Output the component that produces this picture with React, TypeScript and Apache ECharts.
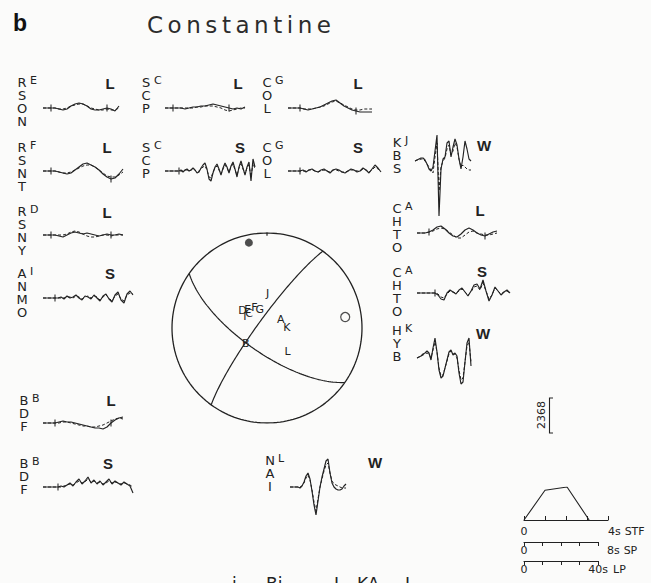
import React, { useEffect, useRef } from "react";
import * as echarts from "echarts";

const INK = "#222222";
const PAPER = "#fbfbfa";
const FONT = "'DejaVu Sans', 'Liberation Sans', sans-serif";

// ---------- waveform panels ----------
const TRACE_STATIONS = ["RSON", "SCP", "COL", "RSNT", "SCP", "COL", "KBS", "RSNY", "CHTO", "ANMO", "CHTO", "HYB", "BDF", "BDF", "NAI"];
const TRACE_KEYS = ["E", "C", "G", "F", "C", "G", "J", "D", "A", "I", "A", "K", "B", "B", "L"];
const TRACE_PHASES = ["L", "L", "L", "L", "S", "S", "W", "L", "L", "S", "S", "W", "L", "S", "W"];

// observed (solid) and synthetic (dashed) amplitudes, uniform sampling
const RSON_L_OBS = [0, 0, 0, 0, -1, -2, -1, 2, 4, 5, 4, 2, -1, -2, -2, -1, 0, -1, -3, 2];
const RSON_L_SYN = [0, 0, 0, 0, -1, -1, 0, 2, 3, 4, 4, 2, 0, -1, -2, -2, -1, -2, -2, 0];
const SCP_L_OBS = [0, 0, 0, 0, 0, -1, 0, 1, 1, 2, 2, 3, 4, 3, 2, 1, 0, -1, 0, -1, 1];
const SCP_L_SYN = [0, 0, 0, 0, 0, 0, 0, 0, 1, 1, 2, 2, 2, 1, 0, -2, -3, -2, -1, 0, 0];
const COL_L_OBS = [0, 0, 0, 0, -1, -2, -1, 0, 1, 3, 5, 7, 8, 5, 2, 0, -2, -3, -4, -4, -4, -4];
const COL_L_SYN = [0, 0, 0, 0, -1, -1, -1, 0, 1, 2, 4, 6, 7, 5, 3, 1, -1, -2, -2, -1, -1, -1];
const RSNT_L_OBS = [0, 0, 0, 0, -1, -2, -3, -2, 1, 4, 7, 8, 6, 4, 1, -3, -6, -8, -7, -3, 2];
const RSNT_L_SYN = [0, 0, 0, 0, -1, -2, -2, -1, 1, 3, 5, 6, 6, 4, 1, -2, -5, -6, -6, -4, -1];
const SCP_S_OBS = [0, 0, 0, 0, 0, 0, 0, 0, 1, -1, 1, 2, 0, 1, 3, 1, -2, -1, 3, 6, 8, 2, -8, -10, -2, 4, 7, 2, -4, 3, 8, 4, -2, 5, 9, 2, -6, 4, 10, 3, -4, 4, 9, -10, 12, 4];
const SCP_S_SYN = [0, 0, 0, 0, 0, 0, 0, 0, 0, 0, 1, 1, 0, 1, 2, 1, -1, 0, 2, 4, 5, 1, -6, -7, -1, 3, 5, 1, -3, 2, 6, 3, -1, 4, 7, 1, -4, 3, 7, 2, -3, 3, 6, -6, 8, 2];
const COL_S_OBS = [0, 0, 0, 0, 0, 1, -1, 1, 2, 0, -1, 1, 2, 0, -2, 1, 2, 1, -1, -2, 0, 2, 1, -1, 0, 3, 1, -2, 2, 6, 3, -1];
const COL_S_SYN = [0, 0, 0, 0, 0, 0, 0, 1, 1, 0, -1, 0, 1, 0, -1, 1, 1, 0, -1, -1, 0, 1, 1, 0, 0, 2, 1, -1, 1, 4, 2, 0];
const KBS_W_OBS = [0, 1, 2, 3, 3, 1, -3, -8, -10, -6, 10, 26, -55, -8, 2, 4, 18, 20, 4, 14, 22, 16, 2, -8, 4, 20, 12, 2, 0];
const KBS_W_SYN = [0, 1, 1, 2, 2, 0, -3, -6, -9, -12, 4, 18, -30, -6, 0, 3, 12, 16, 6, 10, 18, 14, 2, -6, -4, -6, -8, -9, -9];
const RSNY_L_OBS = [0, 0, 0, 0, -1, -2, 0, 2, 3, 2, 1, 2, 1, 0, -1, 0, 1, 0, 0, 1, 0];
const RSNY_L_SYN = [0, 0, 0, 0, 0, 0, 1, 3, 4, 3, 1, -1, -2, -2, -1, 0, 0, -1, 0, 0, 0];
const CHTO_L_OBS = [0, 0, 0, 1, 3, 6, 7, 4, 0, -3, -4, -1, 3, 5, 3, 0, -2, -3, -1, 1, 2];
const CHTO_L_SYN = [0, 0, 0, 1, 2, 4, 5, 4, 1, -2, -5, -5, -2, 1, 2, 0, -1, -2, -2, -1, 0];
const ANMO_S_OBS = [0, 0, 0, 0, 0, 0, 1, -1, 2, 0, 1, 3, 0, -2, 2, 1, -1, 3, 0, -3, 2, 4, -1, -4, 3, 6, -2, -5, 4, 7, 3];
const ANMO_S_SYN = [0, 0, 0, 0, 0, 0, 0, 0, 1, 1, 0, 2, 1, -1, 1, 2, 0, 2, 1, -2, 1, 3, 0, -3, 2, 4, -1, -3, 3, 5, 4];
const CHTO_S_OBS = [0, 0, 0, 0, 0, 0, 0, -2, -6, -7, 0, 3, 1, -1, 3, 5, 1, -3, 2, 8, 9, 4, 13, 2, -8, -2, 6, 2, -2, 1, 3, 0];
const CHTO_S_SYN = [0, 0, 0, 0, 0, 0, 0, -1, -4, -5, -1, 2, 1, 0, 2, 4, 1, -2, 1, 6, 7, 3, 10, 2, -6, -2, 5, 2, -1, 1, 2, 0];
const HYB_W_OBS = [0, 1, 2, 4, 5, 7, 5, -2, 10, 20, 6, -12, -20, -18, -10, -2, 6, 8, 3, 5, 2, -15, -26, -24, -4, 15, 20, -8];
const HYB_W_SYN = [0, 1, 2, 3, 4, 5, 4, 0, 8, 16, 6, -10, -18, -17, -10, -3, 4, 7, 4, 4, 0, -12, -22, -20, -4, 12, 16, -4];
const BDF_L_OBS = [0, 0, 0, 0, 1, 2, 1, 1, 0, -1, -2, -3, -4, -5, -5, -6, -4, 0, 3, 5, 6];
const BDF_L_SYN = [0, 0, 0, 0, 0, 1, 1, 0, -1, -2, -3, -3, -4, -4, -3, -2, 0, 2, 4, 5, 4];
const BDF_S_OBS = [0, 0, 0, 0, 0, 0, 1, 0, 2, 4, 1, 5, 8, 3, 6, 10, 4, 7, 3, 6, 2, 5, 8, 3, 6, 4, 2, 5, 3, 1, -6];
const BDF_S_SYN = [0, 0, 0, 0, 0, 0, 0, 1, 2, 3, 2, 4, 6, 4, 5, 8, 5, 6, 4, 5, 3, 4, 6, 4, 5, 4, 3, 4, 3, 2, 0];
const NAI_W_OBS = [0, 0, 0, 0, 0, -1, 1, 5, 11, 14, 8, -4, -18, -28, -14, 0, 10, 18, 26, 28, 14, 4, 0, -2, -3, -3, -2, 1, 3];
const NAI_W_SYN = [0, 0, 0, 0, 0, 0, 1, 4, 9, 12, 7, -3, -15, -24, -12, 0, 8, 16, 22, 24, 14, 6, 3, 2, 1, 0, -1, -1, -1];

const OBSERVED = [RSON_L_OBS, SCP_L_OBS, COL_L_OBS, RSNT_L_OBS, SCP_S_OBS, COL_S_OBS, KBS_W_OBS, RSNY_L_OBS, CHTO_L_OBS, ANMO_S_OBS, CHTO_S_OBS, HYB_W_OBS, BDF_L_OBS, BDF_S_OBS, NAI_W_OBS];
const SYNTHETIC = [RSON_L_SYN, SCP_L_SYN, COL_L_SYN, RSNT_L_SYN, SCP_S_SYN, COL_S_SYN, KBS_W_SYN, RSNY_L_SYN, CHTO_L_SYN, ANMO_S_SYN, CHTO_S_SYN, HYB_W_SYN, BDF_L_SYN, BDF_S_SYN, NAI_W_SYN];
// sample indices of the inversion window marks
const WINDOW_PICKS = [[2, 16], [2, 16], [3, 17], [2, 17], [7], [4], [], [2, 17], [3, 17], [4], [6], [], [3, 17], [5], []];

// panel placement: left edge, baseline, sample spacing, label anchors
const PANELS = [
  { x: 43, y: 108, dx: 4, cx: 22, cy: 82, px: 110, py: 83 },
  { x: 165, y: 108, dx: 4, cx: 146, cy: 82, px: 238, py: 83 },
  { x: 288, y: 108, dx: 4, cx: 267, cy: 82, px: 358, py: 83 },
  { x: 43, y: 171, dx: 4, cx: 22, cy: 147, px: 107, py: 147 },
  { x: 165, y: 171, dx: 2, cx: 146, cy: 147, px: 240, py: 147 },
  { x: 288, y: 171, dx: 3, cx: 267, cy: 147, px: 358, py: 147 },
  { x: 415, y: 161, dx: 2, cx: 397, cy: 142, px: 484, py: 145 },
  { x: 43, y: 235, dx: 4, cx: 22, cy: 211, px: 107, py: 212 },
  { x: 417, y: 233, dx: 4, cx: 397, cy: 208, px: 480, py: 210 },
  { x: 43, y: 298, dx: 3, cx: 22, cy: 273, px: 110, py: 273 },
  { x: 417, y: 293, dx: 3, cx: 397, cy: 272, px: 482, py: 271 },
  { x: 417, y: 358, dx: 2, cx: 397, cy: 330, px: 483, py: 333 },
  { x: 43, y: 423, dx: 4, cx: 24, cy: 400, px: 111, py: 400 },
  { x: 43, y: 487, dx: 3, cx: 24, cy: 463, px: 108, py: 463 },
  { x: 290, y: 487, dx: 2, cx: 270, cy: 460, px: 375, py: 462 },
];

// ---------- focal mechanism ----------
const NODAL_STRIKE = [125, 216];
const NODAL_DIP = [69, 82];
const COMPRESSION_AZ = [348];
const COMPRESSION_TAKEOFF = [81];
const DILATATION_AZ = [82];
const DILATATION_TAKEOFF = [72];
const SPHERE_KEYS = ["A", "K", "L", "B", "J", "D", "E", "C", "I", "F", "G"];
const SPHERE_AZ = [58, 88, 139, 234, 1, 305, 314, 308, 297, 328, 339];
const SPHERE_TAKEOFF = [14, 17, 27, 22.5, 29.5, 25.7, 23, 19.5, 21.2, 20.5, 17.1];

// ---------- source time function and time scales ----------
const STF_TIME = [0, 1.0, 2.05, 3.1];
const STF_AMP = [0, 0.9, 1.0, 0];
const STF_SPAN = 4;
const SP_SPAN = 8;
const LP_SPAN = 40;
const AMPLITUDE_SCALE = "2368";

const rad = Math.PI / 180;

// lower-hemisphere equal-area projection
function project(trend: number, plunge: number): number[] {
  const r = Math.SQRT2 * Math.sin(((90 - plunge) * rad) / 2);
  return [r * Math.sin(trend * rad), r * Math.cos(trend * rad)];
}

function greatCircle(strike: number, dip: number): number[][] {
  const pts: number[][] = [];
  const sN = Math.cos(strike * rad);
  const sE = Math.sin(strike * rad);
  const dd = (strike + 90) * rad;
  const dN = Math.cos(dip * rad) * Math.cos(dd);
  const dE = Math.cos(dip * rad) * Math.sin(dd);
  const dD = Math.sin(dip * rad);
  for (let t = 0; t <= 180; t += 2) {
    const c = Math.cos(t * rad);
    const s = Math.sin(t * rad);
    const vN = c * sN + s * dN;
    const vE = c * sE + s * dE;
    const vD = Math.max(0, Math.min(1, s * dD));
    pts.push(project(Math.atan2(vE, vN) / rad, Math.asin(vD) / rad));
  }
  return pts;
}

function primitive(): number[][] {
  const pts: number[][] = [];
  for (let a = 0; a <= 360; a += 2) pts.push(project(a, 0));
  return pts;
}

// spaced-out heading lettering
function titleLetters(text: string, left: number, right: number, baseline: number, size: number) {
  const ctx = document.createElement("canvas").getContext("2d")!;
  ctx.font = `${size}px 'DejaVu Sans'`;
  const widths = text.split("").map((ch) => ctx.measureText(ch).width);
  const total = widths.reduce((a, b) => a + b, 0);
  const gap = (right - left - total) / (text.length - 1);
  let x = left;
  return text.split("").map((ch, i) => {
    const el = {
      type: "text",
      x,
      y: baseline,
      style: { text: ch, fill: "#2c2c2c", fontSize: size, fontFamily: "'DejaVu Sans'", align: "left", verticalAlign: "bottom" },
    };
    x += widths[i] + gap;
    return el;
  });
}

function buildOption() {
  const grid: any[] = [];
  const xAxis: any[] = [];
  const yAxis: any[] = [];
  const series: any[] = [];
  const graphic: any[] = [];
  const AMP = 60;

  OBSERVED.forEach((obs, i) => {
    const p = PANELS[i];
    const n = obs.length;
    grid.push({ left: p.x, top: p.y - AMP, width: p.dx * (n - 1), height: 2 * AMP });
    xAxis.push({ type: "value", gridIndex: i, min: 0, max: n - 1, show: false });
    yAxis.push({ type: "value", gridIndex: i, min: -AMP, max: AMP, show: false });
    series.push({
      type: "line", xAxisIndex: i, yAxisIndex: i, silent: true, showSymbol: false, z: 3,
      data: obs.map((v, j) => [j, v]),
      lineStyle: { color: INK, width: 1.15 },
    });
    series.push({
      type: "line", xAxisIndex: i, yAxisIndex: i, silent: true, showSymbol: false, z: 2,
      data: SYNTHETIC[i].map((v, j) => [j, v]),
      lineStyle: { color: INK, width: 1, type: [3, 2] },
    });
    if (WINDOW_PICKS[i].length) {
      series.push({
        type: "scatter", xAxisIndex: i, yAxisIndex: i, silent: true, z: 4,
        symbol: "rect", symbolSize: [1.3, 7],
        data: WINDOW_PICKS[i].map((j) => [j, obs[j]]),
        itemStyle: { color: INK },
      });
    }
    graphic.push({
      type: "text", x: p.cx, y: p.cy - 6.5,
      style: { text: TRACE_STATIONS[i].split("").join("\n"), fill: INK, fontSize: 13, fontFamily: FONT, align: "center", verticalAlign: "top", lineHeight: 13 },
    });
    graphic.push({
      type: "text", x: p.cx + 8, y: p.cy - 7,
      style: { text: TRACE_KEYS[i], fill: INK, fontSize: 11, fontFamily: FONT, align: "left", verticalAlign: "top" },
    });
    graphic.push({
      type: "text", x: p.px, y: p.py,
      style: { text: TRACE_PHASES[i], fill: INK, fontSize: 15, fontWeight: "bold", fontFamily: "'Liberation Sans', 'DejaVu Sans', sans-serif", align: "center", verticalAlign: "middle" },
    });
  });

  // focal sphere
  const sg = grid.length;
  grid.push({ left: 172, top: 233, width: 190, height: 190 });
  xAxis.push({ type: "value", gridIndex: sg, min: -1, max: 1, show: false });
  yAxis.push({ type: "value", gridIndex: sg, min: -1, max: 1, show: false });
  const sphereLine = (data: number[][], w = 1.2) => ({
    type: "line", xAxisIndex: sg, yAxisIndex: sg, silent: true, showSymbol: false,
    data, lineStyle: { color: INK, width: w },
  });
  series.push(sphereLine(primitive(), 1.3));
  series.push(sphereLine([[0, 0.97], [0, 1.03]], 1.2));
  NODAL_STRIKE.forEach((s, k) => series.push(sphereLine(greatCircle(s, NODAL_DIP[k]))));
  series.push({
    type: "scatter", xAxisIndex: sg, yAxisIndex: sg, silent: true, symbolSize: 8,
    data: COMPRESSION_AZ.map((a, k) => project(a, 90 - COMPRESSION_TAKEOFF[k])),
    itemStyle: { color: INK },
  });
  series.push({
    type: "scatter", xAxisIndex: sg, yAxisIndex: sg, silent: true, symbolSize: 9,
    data: DILATATION_AZ.map((a, k) => project(a, 90 - DILATATION_TAKEOFF[k])),
    itemStyle: { color: PAPER, borderColor: INK, borderWidth: 1.2 },
  });
  series.push({
    type: "scatter", xAxisIndex: sg, yAxisIndex: sg, silent: true, symbolSize: 1, z: 5,
    data: SPHERE_KEYS.map((k, m) => ({ name: k, value: project(SPHERE_AZ[m], 90 - SPHERE_TAKEOFF[m]) })),
    itemStyle: { color: PAPER, opacity: 0 },
    label: {
      show: true, position: "top", distance: -6, formatter: (q: any) => q.name,
      color: INK, textBorderWidth: 0, fontSize: 11, fontFamily: FONT, opacity: 1,
    },
  });

  // time scales
  const scaleAxis = (gi: number, max: number, interval: number, unit: string, inside: boolean, margin: number, alignMax: string, shift: number, nameGap: number, namePad: number) => ({
    type: "value", gridIndex: gi, min: 0, max, interval,
    name: unit, nameLocation: "end", nameGap,
    nameTextStyle: { color: INK, fontSize: 11, fontFamily: FONT, verticalAlign: "top", padding: [namePad, 0, 0, 0] },
    axisLine: { show: true, onZero: false, lineStyle: { color: INK, width: 1.1 } },
    axisTick: { show: true, inside, length: 4, lineStyle: { color: INK, width: 1 } },
    splitLine: { show: false },
    axisLabel: {
      show: true, margin, color: INK, fontSize: 11, fontFamily: FONT,
      alignMinLabel: "center", alignMaxLabel: alignMax,
      rich: { m: { fontSize: 11, fontFamily: FONT, color: INK, padding: [0, 0, 0, shift] } },
      formatter: (v: number) => (v === 0 ? "0" : v === max ? `{m|${max}s}` : ""),
    },
  });
  const stf = grid.length;
  grid.push({ left: 524, top: 487, width: 84, height: 33 });
  xAxis.push(scaleAxis(stf, STF_SPAN, 1, "STF", true, 6, "left", 0, 15, 6));
  yAxis.push({ type: "value", gridIndex: stf, min: 0, max: 1, show: false });
  series.push({
    type: "line", xAxisIndex: stf, yAxisIndex: stf, silent: true, showSymbol: false,
    data: STF_TIME.map((t, k) => [t, STF_AMP[k]]),
    lineStyle: { color: INK, width: 1.1 },
  });
  const sp = grid.length;
  grid.push({ left: 524, top: 530, width: 74, height: 12 });
  xAxis.push(scaleAxis(sp, SP_SPAN, 2, "SP", false, 3, "left", 9, 24, 3));
  yAxis.push({ type: "value", gridIndex: sp, min: 0, max: 1, show: false });
  const lp = grid.length;
  grid.push({ left: 524, top: 549, width: 74, height: 12 });
  xAxis.push(scaleAxis(lp, LP_SPAN, 10, "LP", false, 3, "center", 0, 15, 3));
  yAxis.push({ type: "value", gridIndex: lp, min: 0, max: 1, show: false });

  // headings
  graphic.push({
    type: "text", x: 13, y: 23,
    style: { text: "b", fill: "#111", fontSize: 23, fontWeight: "bold", fontFamily: "'Liberation Sans', Arial, sans-serif", align: "left", verticalAlign: "middle" },
  });
  graphic.push(...titleLetters("Constantine", 147, 331, 36, 23));

  // amplitude scale
  graphic.push({
    type: "text", x: 541, y: 415, rotation: Math.PI / 2,
    style: { text: AMPLITUDE_SCALE, fill: INK, fontSize: 11, fontFamily: FONT, align: "center", verticalAlign: "middle" },
  });
  graphic.push({
    type: "polyline",
    shape: { points: [[553, 398], [549.5, 398], [549.5, 433], [553, 433]] },
    style: { stroke: INK, lineWidth: 1.1, fill: null },
  });

  // caption line running off the page
  const caption = [["i", 232], ["Bi", 266], ["L", 334], ["KA", 357], ["L", 405]];
  caption.forEach(([t, x]) =>
    graphic.push({
      type: "text", x: x as number, y: 575,
      style: { text: t as string, fill: INK, fontSize: 17, fontFamily: FONT, align: "left", verticalAlign: "top" },
    })
  );

  return {
    animation: false,
    backgroundColor: PAPER,
    grid,
    xAxis,
    yAxis,
    series,
    graphic,
  };
}

export default function App() {
  const ref = useRef<HTMLDivElement>(null);
  useEffect(() => {
    const chart = echarts.init(ref.current!, null, { renderer: "svg" });
    chart.setOption(buildOption() as any);
    return () => chart.dispose();
  }, []);
  return <div ref={ref} style={{ position: "fixed", left: 0, top: 0, width: 651, height: 583 }} />;
}
